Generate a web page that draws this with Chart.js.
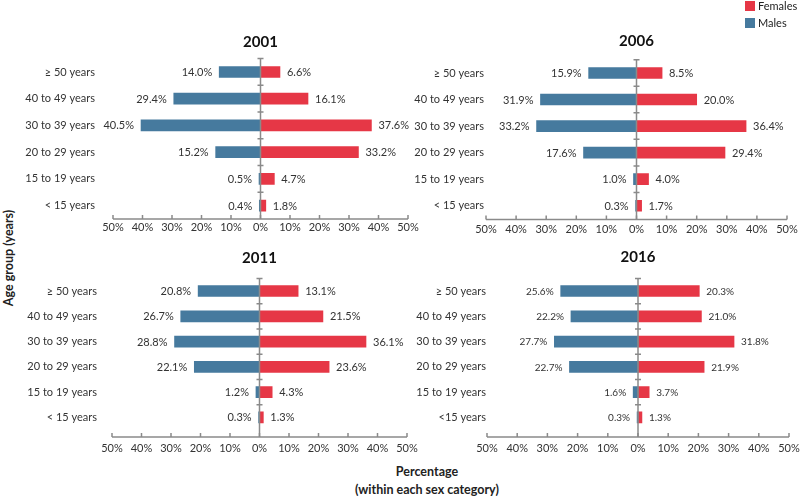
<!DOCTYPE html>
<html>
<head>
<meta charset="utf-8">
<script src="https://cdn.jsdelivr.net/npm/chart.js@4.4.1/dist/chart.umd.min.js"></script>
<style>
  html, body { margin: 0; padding: 0; background: #fff; }
  body { width: 800px; height: 496px; position: relative; overflow: hidden; font-family: Lato, "Open Sans", sans-serif; color: #222; }
  .panel { position: absolute; }
  .legend { position: absolute; left: 745px; font-size: 11px; line-height: 10px; z-index: 2; }
  .legend span.box { position: absolute; left: 0; top: 0; width: 10px; height: 10px; }
  .legend span.txt { position: absolute; left: 13px; top: 0; white-space: nowrap; }
  .ytitle { position: absolute; left: 8px; top: 258px; transform: translate(-50%, -50%) rotate(-90deg); font-weight: bold; font-size: 12.5px; white-space: nowrap; }
  .xtitle { position: absolute; left: 427px; top: 463px; transform: translateX(-50%); font-weight: bold; font-size: 12.5px; line-height: 18px; text-align: center; white-space: nowrap; }
</style>
</head>
<body>

<div class="legend" style="top:1px"><span class="box" style="background:#e63746"></span><span class="txt">Females</span></div>
<div class="legend" style="top:18px"><span class="box" style="background:#467a9e"></span><span class="txt">Males</span></div>
<div class="ytitle">Age group (years)</div>
<div class="xtitle">Percentage<br>(within each sex category)</div>

<script>
// Age structure by sex, four census years

const ageGroups = ['≥ 50 years', '40 to 49 years', '30 to 39 years', '20 to 29 years', '15 to 19 years', '< 15 years'];
const ageGroups2016 = ['≥ 50 years', '40 to 49 years', '30 to 39 years', '20 to 29 years', '15 to 19 years', '<15 years'];

const males2001 = [14.0, 29.4, 40.5, 15.2, 0.5, 0.4];
const females2001 = [6.6, 16.1, 37.6, 33.2, 4.7, 1.8];
const males2006 = [15.9, 31.9, 33.2, 17.6, 1.0, 0.3];
const females2006 = [8.5, 20.0, 36.4, 29.4, 4.0, 1.7];
const males2011 = [20.8, 26.7, 28.8, 22.1, 1.2, 0.3];
const females2011 = [13.1, 21.5, 36.1, 23.6, 4.3, 1.3];
const males2016 = [25.6, 22.2, 27.7, 22.7, 1.6, 0.3];
const females2016 = [20.3, 21.0, 31.8, 21.9, 3.7, 1.3];

const xTickValues = [-50, -40, -30, -20, -10, 0, 10, 20, 30, 40, 50];

const MALE_COLOR = '#467a9e';
const FEMALE_COLOR = '#e63746';
const AXIS_COLOR = '#8a8a8a';

Chart.defaults.font.family = 'Lato, "Open Sans", sans-serif';
Chart.defaults.color = '#333';

// layout of each small chart (pixel boxes)
const panels = [
    { year: '2001', labels: ageGroups, males: males2001, females: females2001,
      canvasLeft: 0, areaLeft: 113, areaRight: 408, areaTop: 58.6, areaBottom: 219.4,
      titleY: 42, gap: 0, labelPad: 18, tickPad: 2, valueFont: 11 },
    { year: '2006', labels: ageGroups, males: males2006, females: females2006,
      canvasLeft: 400, areaLeft: 486, areaRight: 787, areaTop: 59.7, areaBottom: 219.3,
      titleY: 41, gap: 0.5, labelPad: 2, tickPad: 4, valueFont: 11 },
    { year: '2011', labels: ageGroups, males: males2011, females: females2011,
      canvasLeft: 0, areaLeft: 112, areaRight: 407, areaTop: 278.4, areaBottom: 429.6,
      titleY: 258, gap: 7, labelPad: 15, tickPad: 11.8, valueFont: 11 },
    { year: '2016', labels: ageGroups2016, males: males2016, females: females2016,
      canvasLeft: 400, areaLeft: 487, areaRight: 789, areaTop: 278.4, areaBottom: 429.6,
      titleY: 257, gap: 7, labelPad: 1, tickPad: 11.8, valueFont: 10 }
];

const TITLE_SIZE = 15;
const TITLE_HALF = TITLE_SIZE * 1.2 / 2;
const X_SCALE_HEIGHT = 30;
const RIGHT_PAD = 32; // roomy enough that the last "50%" label never squeezes the plot

// center line, bottom axis and value labels
const pyramidDecor = {
    id: 'pyramidDecor',
    afterDatasetsDraw(chart, args, opts) {
        const ctx = chart.ctx;
        const x = chart.scales.x;
        const y = chart.scales.y;
        const area = chart.chartArea;
        const axisY = area.bottom + opts.gap;
        const zeroX = x.getPixelForValue(0);

        ctx.save();

        // value labels next to the bar ends
        ctx.font = opts.valueFont + 'px Lato, "Open Sans", sans-serif';
        ctx.fillStyle = '#333';
        ctx.textBaseline = 'middle';
        chart.data.datasets.forEach((ds, di) => {
            const meta = chart.getDatasetMeta(di);
            meta.data.forEach((bar, i) => {
                const v = Math.abs(ds.data[i]);
                const txt = v.toFixed(1) + '%';
                if (ds.data[i] < 0) {
                    ctx.textAlign = 'right';
                    ctx.fillText(txt, bar.x - 7, bar.y + 0.5);
                } else {
                    ctx.textAlign = 'left';
                    ctx.fillText(txt, bar.x + 7, bar.y + 0.5);
                }
            });
        });

        ctx.strokeStyle = AXIS_COLOR;
        ctx.lineWidth = 1.5;

        // vertical zero line with little cross ticks between age groups
        ctx.beginPath();
        ctx.moveTo(zeroX, area.top);
        ctx.lineTo(zeroX, axisY);
        ctx.moveTo(zeroX - 3, area.top);
        ctx.lineTo(zeroX + 3, area.top);
        for (let i = 0; i < chart.data.labels.length - 1; i++) {
            const yy = (y.getPixelForValue(i) + y.getPixelForValue(i + 1)) / 2;
            ctx.moveTo(zeroX - 3, yy);
            ctx.lineTo(zeroX + 3, yy);
        }
        ctx.stroke();

        // bottom axis with upward ticks
        ctx.beginPath();
        ctx.moveTo(x.getPixelForValue(-50), axisY);
        ctx.lineTo(x.getPixelForValue(50), axisY);
        xTickValues.forEach(t => {
            const px = x.getPixelForValue(t);
            ctx.moveTo(px, axisY);
            ctx.lineTo(px, axisY - 4);
        });
        ctx.stroke();

        ctx.restore();
    }
};

panels.forEach(p => {
    const canvasTop = p.titleY - TITLE_HALF - 4;
    const canvasHeight = Math.round(p.areaBottom - canvasTop + X_SCALE_HEIGHT);
    const canvasWidth = p.areaRight + RIGHT_PAD - p.canvasLeft;

    const wrap = document.createElement('div');
    wrap.className = 'panel';
    wrap.style.left = p.canvasLeft + 'px';
    wrap.style.top = canvasTop + 'px';
    wrap.style.width = canvasWidth + 'px';
    wrap.style.height = canvasHeight + 'px';
    const canvas = document.createElement('canvas');
    canvas.width = canvasWidth;
    canvas.height = canvasHeight;
    canvas.style.width = canvasWidth + 'px';
    canvas.style.height = canvasHeight + 'px';
    wrap.appendChild(canvas);
    document.body.appendChild(wrap);

    new Chart(canvas.getContext('2d'), {
        type: 'bar',
        data: {
            labels: p.labels,
            datasets: [{
                label: 'Males',
                data: p.males.map(v => -v),
                backgroundColor: MALE_COLOR,
                barThickness: 11,
                stack: 'sex'
            }, {
                label: 'Females',
                data: p.females,
                backgroundColor: FEMALE_COLOR,
                barThickness: 11,
                stack: 'sex'
            }]
        },
        options: {
            indexAxis: 'y',
            responsive: false,
            animation: false,
            layout: {
                autoPadding: false,
                padding: { left: 0, right: RIGHT_PAD, top: 0, bottom: 0 }
            },
            plugins: {
                legend: { display: false },
                tooltip: { enabled: false },
                title: {
                    display: true,
                    text: p.year,
                    fullSize: false,
                    color: '#111',
                    font: { size: TITLE_SIZE, weight: 'bold' },
                    padding: { top: 4, bottom: p.areaTop - p.titleY - TITLE_HALF }
                },
                pyramidDecor: { gap: p.gap, valueFont: p.valueFont }
            },
            scales: {
                x: {
                    type: 'linear',
                    stacked: true,
                    min: -50,
                    max: 50,
                    grid: { display: false, drawTicks: false },
                    border: { display: false },
                    ticks: {
                        stepSize: 10,
                        padding: p.tickPad,
                        maxRotation: 0,
                        color: '#333',
                        font: { size: 11 },
                        callback: v => Math.abs(v) + '%'
                    },
                    afterFit: scale => { scale.height = X_SCALE_HEIGHT; }
                },
                y: {
                    stacked: true,
                    grid: { display: false, drawTicks: false },
                    border: { display: false },
                    ticks: {
                        padding: p.labelPad,
                        color: '#333',
                        font: { size: 11 }
                    },
                    afterFit: scale => { scale.width = p.areaLeft - p.canvasLeft; }
                }
            }
        },
        plugins: [pyramidDecor]
    });
});
</script>
</body>
</html>
